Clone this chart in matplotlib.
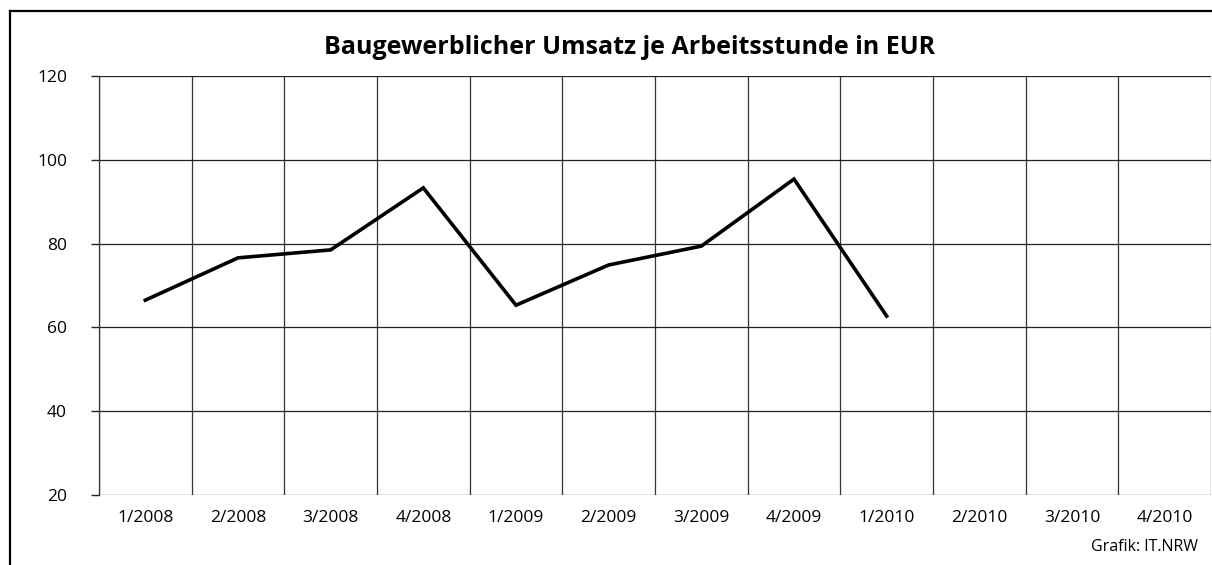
import numpy as np
import matplotlib.pyplot as plt
from matplotlib.lines import Line2D

# --- Dados ---
quartale = ['1/2008', '2/2008', '3/2008', '4/2008', '1/2009', '2/2009',
            '3/2009', '4/2009', '1/2010', '2/2010', '3/2010', '4/2010']
umsatz = [66.5, 76.6, 78.5, 93.3, 65.3, 74.9, 79.4, 95.4, 62.7]
yTicks = [20, 40, 60, 80, 100, 120]

plt.rcParams['font.family'] = ['Open Sans', 'DejaVu Sans']

fig = plt.figure(figsize=(12.12, 5.65), dpi=100)
ax = fig.add_axes([99 / 1212, 1 - 495 / 565, 1112 / 1212, 419 / 565])

x = np.arange(len(quartale))
ax.plot(x[:len(umsatz)], umsatz, color='black', lw=2.6, solid_joinstyle='miter', zorder=3)

ax.set_xlim(-0.5, len(quartale) - 0.5)
ax.set_ylim(20, 120)
ax.set_xticks(x)
ax.set_xticklabels(quartale, fontsize=12.5)
ax.set_xticks(np.arange(len(quartale) + 1) - 0.5, minor=True)
ax.set_yticks(yTicks)
ax.set_yticklabels([str(v) for v in yTicks], fontsize=12.5)

ax.tick_params(axis='x', which='both', length=0, pad=11)
ax.tick_params(axis='y', length=6, width=1, color='#222222', pad=17)
ax.grid(True, axis='x', which='minor', color='#333333', lw=0.9)
ax.grid(True, axis='y', which='major', color='#222222', lw=0.9)

for lado in ['top', 'right', 'bottom']:
    ax.spines[lado].set_visible(False)
ax.spines['left'].set_color('#333333')
ax.spines['left'].set_linewidth(0.9)

fig.text(630 / 1212, 1 - 47 / 565, 'Baugewerblicher Umsatz je Arbeitsstunde in EUR',
         ha='center', va='center', fontsize=18, fontweight='bold')
fig.text(1198 / 1212, 1 - 547 / 565, 'Grafik: IT.NRW', ha='right', va='center', fontsize=11.5)

# Rahmen
fig.add_artist(Line2D([9.5 / 1212, 9.5 / 1212], [0, 1 - 11 / 565], color='black', lw=1.6,
                      transform=fig.transFigure))
fig.add_artist(Line2D([9.5 / 1212, 1], [1 - 11 / 565, 1 - 11 / 565], color='black', lw=1.6,
                      transform=fig.transFigure))

fig.savefig('out.png', dpi=100)
